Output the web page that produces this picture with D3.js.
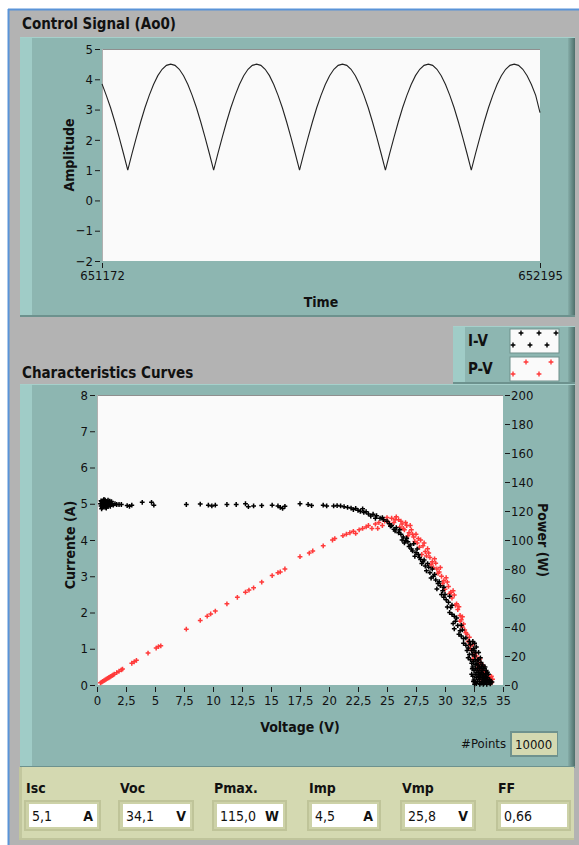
<!DOCTYPE html>
<html><head><meta charset="utf-8">
<script src="https://cdn.jsdelivr.net/npm/d3@7/dist/d3.min.js"></script>
<style>body{margin:0;background:#fff}svg{display:block}</style>
</head><body><svg id="c" width="579" height="845"></svg>
<script>
// ---------------- DATA ----------------
const signalTitle = "Control Signal (Ao0)";
const signalStart = 651172;
const signalEnd = 652195;
const signalAmplitude = [
  3.85,3.47,3.06,2.59,2.08,1.55,
  1.00,1.55,2.08,2.59,3.06,3.47,3.83,4.12,4.33,4.46,4.50,4.46,4.33,4.12,3.83,3.47,3.06,2.59,2.08,1.55,
  1.00,1.55,2.08,2.59,3.06,3.47,3.83,4.12,4.33,4.46,4.50,4.46,4.33,4.12,3.83,3.47,3.06,2.59,2.08,1.55,
  1.00,1.55,2.08,2.59,3.06,3.47,3.83,4.12,4.33,4.46,4.50,4.46,4.33,4.12,3.83,3.47,3.06,2.59,2.08,1.55,
  1.00,1.55,2.08,2.59,3.06,3.47,3.83,4.12,4.33,4.46,4.50,4.46,4.33,4.12,3.83,3.47,3.06,2.59,2.08,1.55,
  1.00,1.55,2.08,2.59,3.06,3.47,3.83,4.12,4.33,4.46,4.50,4.46,4.33,4.12,3.83,3.47,2.90
];
const amplitudeTicks = [-2,-1,0,1,2,3,4,5];
const timeTicks = [651172, 652195];

const curvesTitle = "Characteristics Curves";
// I-V points: [voltage V, current A]
const ivPoints = [
  [0.3,5.0],[0.35,4.94],[0.4,5.06],[0.45,4.98],[0.5,5.02],[0.5,4.92],[0.55,5.09],[0.6,4.97],[0.65,5.04],[0.7,4.9],
  [0.7,5.1],[0.75,5.0],[0.8,4.95],[0.85,5.06],[0.9,4.99],[0.95,4.92],[1.0,5.04],[1.05,4.97],[1.1,5.07],[1.2,4.98],
  [0.35,5.08],[0.45,4.9],[0.6,5.12],[0.8,4.88],[0.95,5.1],[1.15,4.93],[0.55,4.96],[0.75,5.06],[1.25,5.06],[0.4,4.86],
  [1.3,5.01],[1.4,4.96],[1.55,5.0],[1.7,4.98],[1.9,4.98],[2.1,4.98],[2.6,4.95],[2.8,4.93],[3.0,4.96],[3.9,5.04],
  [4.7,5.04],[4.9,4.96],[7.7,4.98],[8.9,4.99],[9.6,4.96],[9.9,4.94],[10.2,4.96],[11.2,4.98],[12.0,4.98],[12.8,5.0],
  [13.05,4.92],[13.5,4.94],[14.2,4.95],[15.1,4.96],[15.6,4.94],[15.8,4.9],[16.0,4.87],[16.2,4.93],[17.5,5.0],[18.2,4.98],
  [18.5,4.95],[19.5,4.96],[19.8,4.94],[20.4,4.94],[20.7,4.95],[21.0,4.94],[21.3,4.92],[21.6,4.9],[21.9,4.88],[22.1,4.84],
  [22.3,4.87],[22.5,4.82],[22.7,4.79],[22.9,4.86],[23.0,4.76],[23.2,4.78],[23.4,4.72],[23.6,4.66],[23.8,4.71],[24.0,4.6],
  [24.1,4.67],[24.4,4.6],[24.6,4.62],[24.7,4.56],[25.0,4.52],[25.2,4.45],[25.3,4.38],[25.4,4.4],[25.6,4.3],[25.7,4.25],
  [25.8,4.34],[26.0,4.2],[26.1,4.28],[26.2,4.16],[26.3,4.0],[26.4,4.08],[26.5,3.92],[26.6,3.98],[26.7,4.05],[26.8,3.95],
  [26.9,3.82],[27.0,3.86],[27.1,3.75],[27.2,3.7],[27.3,3.9],[27.4,3.55],[27.5,3.65],[27.6,3.75],[27.7,3.6],[27.8,3.52],
  [27.9,3.46],[28.0,3.35],[28.1,3.4],[28.2,3.45],[28.3,3.28],[28.4,3.15],[28.5,3.35],[28.6,3.25],[28.7,3.1],[28.8,2.95],
  [28.9,3.2],[29.0,3.0],[29.1,3.05],[29.2,2.9],[29.3,2.65],[29.4,2.8],[29.5,2.85],[29.6,2.74],[29.7,2.5],[29.8,2.6],
  [29.9,2.42],[29.9,2.7],[30.0,2.5],[30.1,2.35],[30.2,2.15],[30.3,2.28],[30.4,2.45],[30.4,2.0],[30.5,2.14],[30.6,1.95],
  [30.6,2.2],[30.7,1.7],[30.8,1.9],[30.8,1.55],[30.9,1.76],[31.0,1.85],[31.1,1.64],[31.2,1.4],[31.3,1.5],[31.4,1.35],
  [31.4,1.65],[31.5,1.52],[31.6,1.28],[31.6,1.15],[31.8,1.1],[31.8,1.3],[31.9,0.95],[32.0,1.02],[32.0,0.75],[32.1,0.84],
  [32.1,1.2],[32.2,1.12],[32.2,0.7],[32.3,0.6],[32.3,0.3],[32.35,0.45],[32.4,0.5],[32.4,1.2],[32.45,0.65],[32.45,0.1],
  [32.5,0.4],[32.5,0.95],[32.55,0.8],[32.55,0.02],[32.6,0.3],[32.6,0.56],[32.6,0.08],[32.4,0.24],[32.5,0.14],[32.65,0.45],
  [32.7,0.2],[32.7,1.05],[32.7,0.04],[32.75,0.35],[32.8,0.1],[32.8,0.7],[32.85,0.55],[32.9,0.35],[32.9,0.9],[32.9,0.7],
  [32.9,0.22],[32.95,0.15],[33.0,0.05],[33.0,0.45],[33.0,0.02],[33.05,0.3],[33.1,0.2],[33.1,0.62],[33.15,0.5],[33.15,0.05],
  [33.2,0.1],[33.2,0.4],[33.25,0.2],[33.3,0.3],[33.3,0.02],[33.35,0.12],[33.4,0.05],[33.45,0.25],[33.45,0.08],[33.5,0.15],
  [33.5,0.32],[33.55,0.4],[33.6,0.08],[33.6,0.02],[33.65,0.2],[33.7,0.12],[33.75,0.3],[33.8,0.06],[33.85,0.15],[33.9,0.03],
  [33.95,0.1],[34.05,0.08],
  [32.35,0.85],[32.45,1.0],[32.55,1.15],[32.65,0.9],[32.75,0.6],[32.85,0.25],[32.95,0.5],[33.05,0.75],[33.15,0.35],[33.25,0.55],
  [33.35,0.45],[33.45,0.5],[33.55,0.22],[33.65,0.35],[33.4,0.18],[33.0,0.3],[32.6,0.7],[32.3,0.95],[32.8,0.45],[33.2,0.25]
];
// P-V points: [voltage V, power W]
const pvPoints = [
  [0.3,1.5],[0.4,2.0],[0.5,2.5],[0.6,3.0],[0.7,3.5],[0.8,4.0],[0.9,4.5],[1.0,5.0],[1.1,5.5],[1.2,6.0],
  [1.3,6.5],[1.4,7.0],[1.5,7.5],[1.7,8.5],[1.9,9.5],[2.1,10.5],[2.2,11.0],[3.0,15.0],[3.2,16.0],[3.4,17.0],
  [4.4,22.0],[5.1,25.5],[5.3,26.5],[5.5,27.0],[7.7,38.5],[8.9,44.5],[9.5,47.5],[9.8,49.0],[10.2,51.0],[11.2,56.0],
  [12.1,60.5],[12.8,64.0],[13.1,65.5],[13.5,67.0],[14.2,71.0],[15.1,75.5],[15.6,77.5],[15.8,78.0],[16.2,80.0],[17.5,88.5],
  [18.3,91.0],[18.6,92.5],[19.5,96.0],[20.3,100.0],[20.5,101.0],[21.2,103.0],[21.5,104.0],[21.8,105.0],[22.1,106.0],[22.3,104.5],
  [22.6,107.0],[22.9,108.0],[23.2,109.0],[23.4,110.0],[23.7,108.0],[24.0,111.0],[24.2,108.0],[24.3,112.0],[24.6,110.0],[24.8,113.0],
  [25.0,115.5],[25.1,112.5],[25.3,110.0],[25.4,115.0],[25.6,112.0],[25.7,114.0],[25.8,116.0],[26.0,114.0],[26.1,109.0],[26.2,113.0],
  [26.3,111.0],[26.4,108.0],[26.5,107.0],[26.6,112.0],[26.7,110.0],[26.8,103.0],[26.9,105.0],[27.0,110.0],[27.1,107.0],[27.2,104.0],
  [27.3,102.0],[27.4,99.0],[27.5,104.0],[27.6,98.0],[27.7,101.0],[27.8,95.0],[27.9,100.0],[28.0,90.0],[28.1,96.0],[28.2,98.0],
  [28.3,92.0],[28.4,89.0],[28.5,94.0],[28.6,91.0],[28.7,88.0],[28.8,83.0],[28.9,85.0],[29.0,81.0],[29.1,87.0],[29.2,84.0],
  [29.3,80.0],[29.4,77.0],[29.5,78.0],[29.6,81.0],[29.7,75.0],[29.8,70.0],[29.9,72.0],[30.0,66.0],[30.1,74.0],[30.2,71.0],
  [30.3,68.0],[30.4,63.0],[30.5,64.0],[30.6,60.0],[30.7,65.0],[30.8,62.0],[30.9,55.0],[31.0,56.0],[31.1,52.0],[31.2,54.0],
  [31.3,48.0],[31.3,44.0],[31.4,45.0],[31.5,47.0],[31.5,40.0],[31.6,42.0],[31.7,38.0],[31.8,36.0],[31.9,35.0],[32.0,30.0],
  [32.1,33.0],[32.2,27.0],[32.2,25.0],[32.3,24.0],[32.4,28.0],[32.4,18.0],[32.5,20.0],[32.6,22.0],[32.7,20.0],[32.8,17.0],
  [32.8,12.0],[32.9,14.0],[32.9,10.0],[33.0,18.0],[33.0,7.0],[33.0,4.0],[33.1,11.0],[33.1,15.0],[33.2,8.0],[33.2,2.0],
  [33.3,13.0],[33.3,9.0],[33.4,6.0],[33.5,9.0],[33.5,3.0],[33.6,4.0],[33.6,1.5],[33.7,2.5],[33.7,7.0],[33.8,5.0],
  [33.9,3.0],[33.9,2.0],[34.0,6.0],[34.0,1.5],[34.1,4.0]
];
const voltageTicks = [0,2.5,5,7.5,10,12.5,15,17.5,20,22.5,25,27.5,30,32.5,35];
const currentTicks = [0,1,2,3,4,5,6,7,8];
const powerTicks = [0,20,40,60,80,100,120,140,160,180,200];
const seriesNames = ["I-V","P-V"];
const seriesColors = ["#000000","#ff3a3a"];
const pointsLabel = "#Points";
const pointsValue = "10000";
const resultLabels = ["Isc","Voc","Pmax.","Imp","Vmp","FF"];
const resultValues = ["5,1","34,1","115,0","4,5","25,8","0,66"];
const resultUnits = ["A","V","W","A","V",""];

// ---------------- DRAW ----------------
const FONT = "'Liberation Sans Narrow','DejaVu Sans Condensed','Liberation Sans',sans-serif";
const svg = d3.select("#c").style("font-family", FONT);
const fmtComma = d => String(d).replace(".", ",");

// page background
svg.append("rect").attr("x",9).attr("y",10).attr("width",570).attr("height",835).attr("fill","#b3b3b3");
svg.append("line").attr("x1",8).attr("x2",579).attr("y1",9.5).attr("y2",9.5).attr("stroke","#5a94d8").attr("stroke-width",2);
svg.append("line").attr("x1",8.5).attr("x2",8.5).attr("y1",9).attr("y2",845).attr("stroke","#5a94d8").attr("stroke-width",2);

const defs = svg.append("defs");
const g1 = defs.append("linearGradient").attr("id","edgeR").attr("x1",0).attr("x2",1).attr("y1",0).attr("y2",0);
g1.append("stop").attr("offset",0).attr("stop-color","#86ada8");
g1.append("stop").attr("offset",1).attr("stop-color","#4d6e6a");

function panel(x, y, w, h) {
  const g = svg.append("g");
  g.append("rect").attr("x",x).attr("y",y).attr("width",w).attr("height",h).attr("fill","#8db6b1");
  g.append("rect").attr("x",x).attr("y",y).attr("width",12).attr("height",h).attr("fill","#a0ccc7");
  g.append("rect").attr("x",x+w-7).attr("y",y).attr("width",7).attr("height",h).attr("fill","url(#edgeR)");
  g.append("rect").attr("x",x).attr("y",y+h-2).attr("width",w).attr("height",2).attr("fill","#6d928e");
  g.append("rect").attr("x",x).attr("y",y).attr("width",w).attr("height",1).attr("fill","#a6d0cb");
  return g;
}

function styleAxis(g, size) {
  g.select(".domain").remove();
  g.selectAll(".tick line").attr("stroke","#1a1a1a").attr("stroke-width",1);
  g.selectAll(".tick text").attr("fill","#111").style("font-size", size + "px").style("font-family", FONT);
}

// ===== Top chart =====
panel(20, 37, 555, 280);
svg.append("text").attr("x",22).attr("y",29).text(signalTitle)
  .style("font-weight","bold").style("font-size","15px").attr("fill","#111");

const p1 = {l:102, r:540, t:49, b:261};
svg.append("rect").attr("x",p1.l).attr("y",p1.t).attr("width",p1.r-p1.l).attr("height",p1.b-p1.t).attr("fill","#fafafa");
svg.append("line").attr("x1",p1.l).attr("x2",p1.r).attr("y1",p1.t+0.5).attr("y2",p1.t+0.5).attr("stroke","#8f8f8f");
svg.append("line").attr("x1",p1.l+0.5).attr("x2",p1.l+0.5).attr("y1",p1.t).attr("y2",p1.b).attr("stroke","#b0b0b0");

const x1 = d3.scaleLinear().domain([signalStart, signalEnd]).range([p1.l, p1.r]);
const y1 = d3.scaleLinear().domain([-2, 5]).range([p1.b, p1.t]);
const dt = (signalEnd - signalStart) / (signalAmplitude.length - 1);

const ax1y = svg.append("g").attr("transform",`translate(${p1.l-2},0)`)
  .call(d3.axisLeft(y1).tickValues(amplitudeTicks).tickSize(5).tickPadding(2).tickFormat(d3.format("d")));
styleAxis(ax1y, 13);
const ax1x = svg.append("g").attr("transform",`translate(0,${p1.b+2})`)
  .call(d3.axisBottom(x1).tickValues(timeTicks).tickSize(5).tickPadding(3).tickFormat(d => String(d)));
styleAxis(ax1x, 13);

svg.append("path")
  .datum(signalAmplitude)
  .attr("fill","none").attr("stroke","#222").attr("stroke-width",1.1)
  .attr("d", d3.line().x((d,i) => x1(signalStart + i*dt)).y(d => y1(d)));

svg.append("text").attr("transform",`translate(74,${(p1.t+p1.b)/2}) rotate(-90)`)
  .attr("text-anchor","middle").text("Amplitude")
  .style("font-weight","bold").style("font-size","14px").attr("fill","#111");
svg.append("text").attr("x",(p1.l+p1.r)/2).attr("y",307).attr("text-anchor","middle").text("Time")
  .style("font-weight","bold").style("font-size","14px").attr("fill","#111");

// ===== Legend =====
panel(453, 326, 122, 58);
const legendRows = [
  {name: seriesNames[0], color: seriesColors[0], y: 329, marks: [[10,4],[28,4],[45,4],[2,16],[19,16],[36,16]]},
  {name: seriesNames[1], color: seriesColors[1], y: 357, marks: [[15,5],[40,5],[2,17],[28,17]]}
];
const cross = "M-2.4,0H2.4M0,-2.4V2.4";
legendRows.forEach(r => {
  svg.append("text").attr("x",468).attr("y",r.y+17).text(r.name)
    .style("font-weight","bold").style("font-size","15px").attr("fill","#111");
  svg.append("rect").attr("x",510).attr("y",r.y).attr("width",49).attr("height",24).attr("fill","#fafafa")
    .attr("stroke","#6f8f8b").attr("stroke-width",1);
  r.marks.forEach(m => svg.append("path").attr("d",cross).attr("transform",`translate(${511+m[0]},${r.y+m[1]})`)
    .attr("stroke", r.color).attr("stroke-width",1.4));
});

// ===== Bottom chart =====
panel(20, 384, 555, 384);
svg.append("text").attr("x",22).attr("y",378).text(curvesTitle)
  .style("font-weight","bold").style("font-size","15px").attr("fill","#111");

const p2 = {l:97, r:503, t:395, b:685};
svg.append("rect").attr("x",p2.l).attr("y",p2.t).attr("width",p2.r-p2.l).attr("height",p2.b-p2.t).attr("fill","#fafafa");
svg.append("line").attr("x1",p2.l).attr("x2",p2.r).attr("y1",p2.t+0.5).attr("y2",p2.t+0.5).attr("stroke","#8f8f8f");
svg.append("line").attr("x1",p2.l+0.5).attr("x2",p2.l+0.5).attr("y1",p2.t).attr("y2",p2.b).attr("stroke","#b0b0b0");

const xv = d3.scaleLinear().domain([0,35]).range([p2.l, p2.r]);
const yi = d3.scaleLinear().domain([0,8]).range([p2.b, p2.t]);
const yp = d3.scaleLinear().domain([0,200]).range([p2.b, p2.t]);

const axL = svg.append("g").attr("transform",`translate(${p2.l-2},0)`)
  .call(d3.axisLeft(yi).tickValues(currentTicks).tickSize(5).tickPadding(2).tickFormat(d3.format("d")));
styleAxis(axL, 13);
const axR = svg.append("g").attr("transform",`translate(${p2.r+2},0)`)
  .call(d3.axisRight(yp).tickValues(powerTicks).tickSize(5).tickPadding(1).tickFormat(d3.format("d")));
styleAxis(axR, 13);
const axB = svg.append("g").attr("transform",`translate(0,${p2.b+2})`)
  .call(d3.axisBottom(xv).tickValues(voltageTicks).tickSize(5).tickPadding(4).tickFormat(fmtComma));
styleAxis(axB, 13);

const plotG = svg.append("g");
plotG.selectAll("path.pv").data(pvPoints).join("path").attr("class","pv")
  .attr("d",cross).attr("transform", d => `translate(${xv(d[0])},${yp(d[1])})`)
  .attr("stroke", seriesColors[1]).attr("stroke-width",1.5);
plotG.selectAll("path.iv").data(ivPoints).join("path").attr("class","iv")
  .attr("d",cross).attr("transform", d => `translate(${xv(d[0])},${yi(d[1])})`)
  .attr("stroke", seriesColors[0]).attr("stroke-width",1.5);

svg.append("text").attr("transform",`translate(75,545) rotate(-90)`)
  .attr("text-anchor","middle").text("Currente (A)")
  .style("font-weight","bold").style("font-size","14px").attr("fill","#111");
svg.append("text").attr("transform",`translate(538,540) rotate(90)`)
  .attr("text-anchor","middle").text("Power (W)")
  .style("font-weight","bold").style("font-size","14px").attr("fill","#111");
svg.append("text").attr("x",(p2.l+p2.r)/2).attr("y",732).attr("text-anchor","middle").text("Voltage (V)")
  .style("font-weight","bold").style("font-size","14px").attr("fill","#111");

// #Points
svg.append("text").attr("x",506).attr("y",748).attr("text-anchor","end").text(pointsLabel)
  .style("font-size","13px").attr("fill","#111");
svg.append("rect").attr("x",510).attr("y",731).attr("width",48).attr("height",26).attr("fill","#6f928e");
svg.append("rect").attr("x",512).attr("y",733).attr("width",45).attr("height",22).attr("fill","#d4d9b1");
svg.append("text").attr("x",515).attr("y",749).text(pointsValue).style("font-size","13px").attr("fill","#111");

// ===== Results panel =====
svg.append("rect").attr("x",19).attr("y",767).attr("width",555).attr("height",73).attr("fill","#d4d9b1");
svg.append("rect").attr("x",19).attr("y",767).attr("width",3).attr("height",73).attr("fill","#c2c79e");
svg.append("rect").attr("x",19).attr("y",838).attr("width",555).attr("height",2).attr("fill","#bfc49b");
const boxX = [29,123,217,312,405,501];
const boxW = [68,67,66,65,67,66];
resultLabels.forEach((lab, i) => {
  const bx = boxX[i], bw = boxW[i];
  svg.append("text").attr("x",bx-3).attr("y",793).text(lab)
    .style("font-weight","bold").style("font-size","14px").attr("fill","#111");
  svg.append("rect").attr("x",bx-5).attr("y",800).attr("width",bw+9).attr("height",31).attr("fill","#bfc499");
  svg.append("rect").attr("x",bx-3).attr("y",802).attr("width",bw+5).attr("height",27).attr("fill","#cdd2a8");
  svg.append("rect").attr("x",bx).attr("y",804).attr("width",bw).attr("height",23).attr("fill","#ffffff");
  svg.append("text").attr("x",bx+3).attr("y",821).text(resultValues[i]).style("font-size","14px").attr("fill","#111");
  if (resultUnits[i]) svg.append("text").attr("x",bx+bw-4).attr("y",821).attr("text-anchor","end").text(resultUnits[i])
    .style("font-weight","bold").style("font-size","14px").attr("fill","#111");
});
</script></body></html>
